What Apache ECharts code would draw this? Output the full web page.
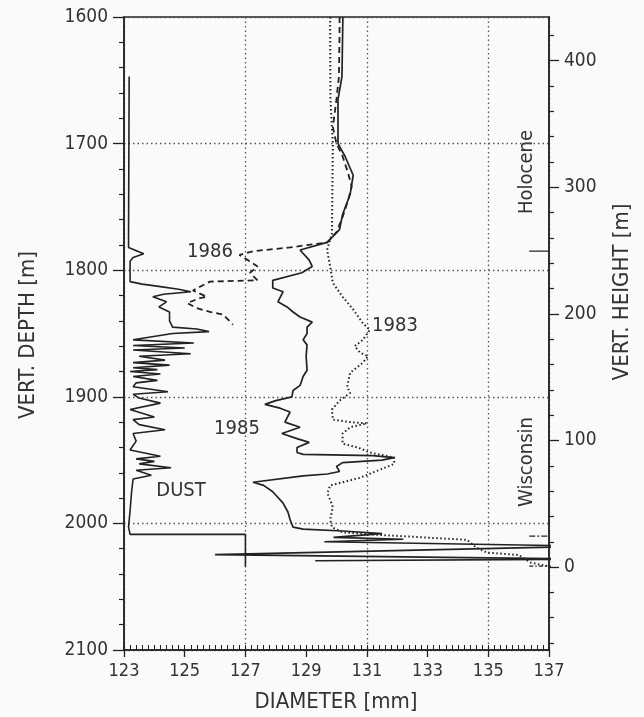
<!DOCTYPE html>
<html>
<head>
<meta charset="utf-8">
<script src="https://cdn.jsdelivr.net/npm/echarts@6/dist/echarts.min.js"></script>
<style>
html, body { margin: 0; background: #fafaf8; }
#main { width: 644px; height: 717px; }
</style>
</head>
<body>
<div id="main"></div>
<script>
// [diameter mm, vertical depth m]
const dust = [
  [123.17, 1647], [123.15, 1770], [123.15, 1782], [123.35, 1784], [123.65, 1787],
  [123.3, 1790], [123.2, 1793], [123.2, 1809], [123.6, 1811], [124.2, 1813],
  [124.8, 1815], [125.2, 1817], [124.3, 1819], [123.95, 1821], [124.4, 1825],
  [124.15, 1829], [124.5, 1833], [124.5, 1840], [124.6, 1845], [125.4, 1846.5],
  [125.8, 1848.5], [124.6, 1850], [123.3, 1855], [125.3, 1857.5], [123.3, 1859.5],
  [125.0, 1861.5], [123.3, 1863], [125.2, 1866], [123.5, 1868], [124.35, 1871],
  [123.3, 1873], [124.5, 1875], [123.3, 1877], [124.1, 1878.5], [123.2, 1880],
  [124.2, 1882], [123.3, 1884], [124.1, 1887], [123.4, 1889], [123.3, 1892],
  [124.45, 1896], [123.3, 1898], [123.5, 1901], [124.2, 1905], [123.2, 1910],
  [123.6, 1913], [124.0, 1916], [123.3, 1918], [123.5, 1922], [124.35, 1926],
  [123.3, 1929], [123.4, 1935], [123.2, 1942], [124.2, 1947], [123.4, 1949],
  [124.0, 1951], [123.5, 1953], [124.55, 1956], [123.4, 1958], [123.9, 1962],
  [123.3, 1965], [123.25, 1975], [123.2, 1990], [123.15, 2003], [123.2, 2008.7],
  [127.0, 2008.7], [127.0, 2034]
];

const year1986 = [
  [130.1, 1600], [130.1, 1613], [130.08, 1647], [130.0, 1665], [129.88, 1687],
  [130.0, 1700], [130.2, 1710], [130.38, 1723], [130.5, 1734], [130.38, 1745],
  [130.2, 1758], [130.0, 1770], [129.7, 1778], [128.47, 1782], [127.25, 1785],
  [126.8, 1788], [127.15, 1793], [127.4, 1797], [127.15, 1802], [127.4, 1808],
  [125.83, 1809], [125.27, 1816], [125.73, 1821], [125.5, 1822], [125.08, 1826],
  [125.4, 1830], [125.83, 1833], [126.26, 1835], [126.59, 1843]
];

const year1985 = [
  [130.21, 1600], [130.18, 1647], [130.05, 1665], [130.05, 1700], [130.28, 1710],
  [130.55, 1725], [130.45, 1740], [130.2, 1756], [130.1, 1768], [129.69, 1778],
  [128.8, 1784], [129.1, 1792], [129.2, 1797], [128.86, 1802], [127.9, 1808],
  [127.9, 1814], [128.24, 1817], [128.07, 1825], [128.37, 1829], [128.57, 1833],
  [128.8, 1837], [129.2, 1841], [129.03, 1845], [129.03, 1850], [128.9, 1855],
  [129.03, 1859], [129.0, 1868], [129.03, 1879], [128.9, 1884], [128.8, 1891],
  [128.57, 1895], [128.53, 1900], [128.0, 1903], [127.64, 1906], [128.14, 1909],
  [128.47, 1912], [128.3, 1920], [128.8, 1924], [128.2, 1929], [128.7, 1933],
  [129.1, 1936], [128.7, 1940], [128.7, 1944], [128.9, 1945.5], [131.2, 1946.5],
  [131.9, 1948], [131.5, 1950], [130.2, 1952], [130.0, 1955], [130.1, 1959],
  [129.7, 1961], [128.9, 1962.5], [127.25, 1967.5], [127.6, 1970], [127.9, 1975],
  [128.24, 1984], [128.4, 1991], [128.47, 1997], [128.57, 2003], [128.9, 2004.5],
  [130.2, 2006], [131.5, 2008], [129.9, 2011], [132.2, 2012.5], [129.6, 2014.5],
  [138.4, 2018], [126.0, 2024.6], [138.4, 2028.2], [129.3, 2029.5]
];

const year1983 = [
  [129.79, 1600], [129.8, 1665], [129.85, 1687], [129.88, 1700], [129.85, 1771],
  [129.79, 1776], [129.69, 1784], [129.79, 1797], [129.88, 1810], [130.2, 1821],
  [130.55, 1831], [130.87, 1842], [131.1, 1847], [130.87, 1855], [130.6, 1860],
  [130.77, 1865], [131.04, 1868], [130.87, 1873], [130.45, 1881], [130.35, 1892],
  [130.45, 1897], [130.1, 1903], [129.85, 1910], [129.88, 1918], [130.45, 1920],
  [131.0, 1921], [130.45, 1924], [130.2, 1929], [130.2, 1937], [130.7, 1940],
  [131.1, 1944], [131.9, 1948], [131.9, 1953], [130.77, 1964], [129.79, 1970],
  [129.7, 1976], [129.88, 1987], [129.79, 1997], [129.85, 2003], [130.2, 2007],
  [131.0, 2008.5], [134.3, 2013], [134.6, 2019], [134.95, 2023], [136.0, 2025],
  [136.4, 2031], [137.0, 2034]
];

const boundaryMark = [[136.35, 1785], [137, 1785]];
const lowerMarkA = [[136.35, 2010], [137, 2010]];
const lowerMarkB = [[136.35, 2033.7], [137.2, 2033.7]];

const diameterTicks = { min: 123, max: 137, step: 2 };
const depthTicks = { min: 1600, max: 2100, step: 100 };
const heightLabels = [0, 100, 200, 300, 400];
const heightMinor = [-60, -40, -20, 20, 40, 60, 80, 120, 140, 160, 180, 220, 240, 260, 280, 320, 340, 360, 380, 420];
// height = surface offset - depth
const heightAtBottom = -65.5;
const heightAtTop = 434.5;

const ink = '#222';
const numFont = "'DejaVu Sans Condensed', 'DejaVu Sans', sans-serif";
const narrowFont = "'Liberation Sans Narrow', 'DejaVu Sans Condensed', sans-serif";

var chartDom = document.getElementById('main');
var myChart = echarts.init(chartDom, null, { renderer: 'canvas' });

const dotted = { color: '#555', width: 1.3, type: [1.5, 3] };

function curve(data, type, width, clip) {
  return {
    type: 'line',
    data: data,
    symbol: 'none',
    clip: clip !== false,
    animation: false,
    silent: true,
    lineStyle: { color: ink, width: width, type: type }
  };
}

const option = {
  backgroundColor: '#fafaf8',
  animation: false,
  grid: {
    left: 124, top: 17, width: 425, height: 633,
    show: true, borderColor: ink, borderWidth: 1.5, backgroundColor: 'transparent'
  },
  xAxis: [
    {
      type: 'value', position: 'bottom',
      min: diameterTicks.min, max: diameterTicks.max, interval: diameterTicks.step,
      axisLine: { onZero: false, lineStyle: { color: ink, width: 1.5 } },
      axisTick: { length: 7, lineStyle: { color: ink, width: 1.3 } },
      axisLabel: { margin: 12, fontSize: 18, color: '#333', fontFamily: narrowFont },
      splitLine: { show: false }
    },
    {
      type: 'value', position: 'bottom',
      min: diameterTicks.min, max: diameterTicks.max, interval: 1,
      axisLine: { show: false, onZero: false },
      axisTick: { inside: true, length: 5, lineStyle: { color: ink, width: 1 } },
      minorTick: { show: true, splitNumber: 5, length: 5, lineStyle: { color: ink, width: 1 } },
      axisLabel: { show: false },
      splitLine: { show: false }
    },
    {
      type: 'value', position: 'bottom',
      min: diameterTicks.min, max: diameterTicks.max, interval: 4,
      axisLine: { show: false, onZero: false }, axisTick: { show: false }, axisLabel: { show: false },
      splitLine: { show: true, lineStyle: dotted }
    }
  ],
  yAxis: [
    {
      type: 'value', position: 'left', inverse: true,
      min: depthTicks.min, max: depthTicks.max, interval: depthTicks.step,
      axisLine: { show: true, onZero: false, lineStyle: { color: ink, width: 1.5 } },
      axisTick: { length: 11, lineStyle: { color: ink, width: 1.3 } },
      minorTick: { show: true, splitNumber: 5, length: 5, lineStyle: { color: ink, width: 1.2 } },
      axisLabel: { margin: 16, fontSize: 19, color: '#333', fontFamily: numFont, formatter: (v) => String(v) },
      splitLine: { show: true, lineStyle: dotted }
    },
    {
      type: 'value', position: 'right',
      min: heightAtBottom, max: heightAtTop,
      axisLine: { show: true, onZero: false, lineStyle: { color: ink, width: 1.5 } },
      axisTick: { show: true, customValues: heightLabels, length: 10, lineStyle: { color: ink, width: 1.3 } },
      axisLabel: { customValues: heightLabels, margin: 15, fontSize: 19, color: '#333', fontFamily: numFont },
      splitLine: { show: false }
    },
    {
      type: 'value', position: 'right',
      min: heightAtBottom, max: heightAtTop,
      axisLine: { show: false, onZero: false },
      axisTick: { show: true, customValues: heightMinor, length: 5, lineStyle: { color: ink, width: 1.2 } },
      axisLabel: { show: false },
      splitLine: { show: false }
    }
  ],
  graphic: [
    { type: 'text', x: 28, y: 335, rotation: Math.PI / 2, style: { text: 'VERT. DEPTH [m]', font: "22px " + numFont, fill: '#333', textAlign: 'center', textVerticalAlign: 'middle' } },
    { type: 'text', x: 622, y: 292, rotation: Math.PI / 2, style: { text: 'VERT. HEIGHT [m]', font: "22px " + numFont, fill: '#333', textAlign: 'center', textVerticalAlign: 'middle' } },
    { type: 'text', x: 336, y: 702, style: { text: 'DIAMETER [mm]', font: "22px " + numFont, fill: '#333', textAlign: 'center', textVerticalAlign: 'middle' } },
    { type: 'text', x: 210, y: 252, style: { text: '1986', font: "20px " + numFont, fill: '#333', textAlign: 'center', textVerticalAlign: 'middle' } },
    { type: 'text', x: 395, y: 326, style: { text: '1983', font: "20px " + numFont, fill: '#333', textAlign: 'center', textVerticalAlign: 'middle' } },
    { type: 'text', x: 237, y: 429, style: { text: '1985', font: "20px " + numFont, fill: '#333', textAlign: 'center', textVerticalAlign: 'middle' } },
    { type: 'text', x: 181, y: 491, style: { text: 'DUST', font: "20px " + numFont, fill: '#333', textAlign: 'center', textVerticalAlign: 'middle' } },
    { type: 'text', x: 527, y: 172, rotation: Math.PI / 2, style: { text: 'Holocene', font: "20px " + numFont, fill: '#333', textAlign: 'center', textVerticalAlign: 'middle' } },
    { type: 'text', x: 527, y: 462, rotation: Math.PI / 2, style: { text: 'Wisconsin', font: "20px " + numFont, fill: '#333', textAlign: 'center', textVerticalAlign: 'middle' } }
  ],
  series: [
    curve(dust, 'solid', 1.6),
    curve(year1986, [6, 4], 1.8),
    curve(year1985, 'solid', 1.7, false),
    curve(year1983, [1.5, 2.5], 2),
    curve(boundaryMark, 'solid', 1.3),
    curve(lowerMarkA, [6, 2, 2, 2], 1.3),
    curve(lowerMarkB, [4, 2, 1.5, 2], 1.3, false)
  ]
};

option && myChart.setOption(option);
</script>
</body>
</html>
